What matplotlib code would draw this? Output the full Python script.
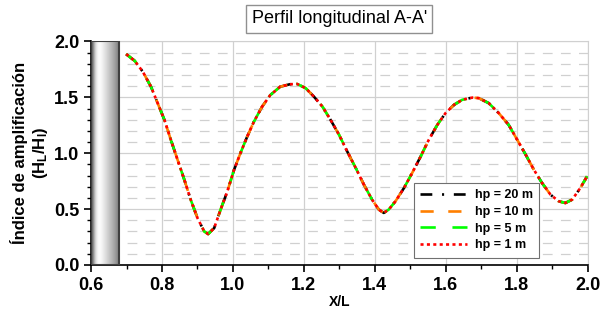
import numpy as np
import matplotlib.pyplot as plt
from matplotlib.patches import Rectangle
from matplotlib.ticker import MultipleLocator

plt.rcParams['font.family'] = ['Liberation Sans', 'DejaVu Sans']
plt.rcParams['mathtext.fontset'] = 'custom'
plt.rcParams['mathtext.rm'] = 'Liberation Sans'
plt.rcParams['mathtext.bf'] = 'Liberation Sans:bold'
plt.rcParams['lines.scale_dashes'] = False

# Datos
x_L = [0.699, 0.723, 0.746, 0.769, 0.788, 0.807, 0.825, 0.844, 0.863, 0.881,
       0.900, 0.919, 0.930, 0.947, 0.965, 0.984, 1.003, 1.021, 1.040, 1.059,
       1.082, 1.105, 1.133, 1.160, 1.181, 1.205, 1.228, 1.252, 1.275, 1.299,
       1.322, 1.346, 1.369, 1.392, 1.411, 1.425, 1.439, 1.458, 1.482, 1.505,
       1.529, 1.552, 1.576, 1.599, 1.623, 1.646, 1.675, 1.693, 1.721, 1.749,
       1.777, 1.801, 1.825, 1.848, 1.871, 1.895, 1.918, 1.937, 1.956, 1.979,
       1.998]
amp = [1.887, 1.827, 1.729, 1.595, 1.446, 1.297, 1.119, 0.940, 0.762, 0.583,
       0.420, 0.300, 0.277, 0.330, 0.494, 0.657, 0.851, 1.000, 1.148, 1.282,
       1.416, 1.520, 1.595, 1.617, 1.620, 1.582, 1.507, 1.418, 1.299, 1.165,
       1.016, 0.868, 0.719, 0.585, 0.496, 0.466, 0.496, 0.570, 0.689, 0.823,
       0.971, 1.121, 1.254, 1.359, 1.433, 1.478, 1.498, 1.493, 1.448, 1.359,
       1.254, 1.121, 0.987, 0.853, 0.734, 0.629, 0.570, 0.555, 0.585, 0.689,
       0.793]

labels = ['hp = 20 m', 'hp = 10 m', 'hp = 5 m', 'hp = 1 m']
colores = ['black', '#FF7F00', '#00FF00', '#FF0000']
trazos = [(0, (8.5, 7, 1.5, 7)), (0, (9.5, 10.5)), (0, (11, 12)), (0, (2.2, 2.4))]

fig = plt.figure(figsize=(6.11, 3.11), dpi=100)
ax = fig.add_axes([0.149, 0.148, 0.813, 0.7186])

# Muro (gradiente gris)
perfil = np.array([0.35, 0.75, 0.95, 1.0, 0.96, 0.9, 0.84, 0.78, 0.72, 0.66, 0.58, 0.5])
ax.imshow(perfil[np.newaxis, :], cmap='gray', vmin=0, vmax=1, aspect='auto',
          extent=[0.6, 0.679, 0, 2.0], zorder=2, interpolation='bicubic')
ax.add_patch(Rectangle((0.6, 0), 0.079, 2.0, fill=False, edgecolor='#404040', lw=1.5, zorder=3))

for lab, c, ls in zip(labels, colores, trazos):
    ax.plot(x_L, amp, color=c, linestyle=ls, lw=1.9, label=lab, zorder=4)

ax.set_xlim(0.6, 2.0)
ax.set_ylim(0, 2.0)
ax.xaxis.set_major_locator(MultipleLocator(0.2))
ax.xaxis.set_minor_locator(MultipleLocator(0.1))
ax.yaxis.set_major_locator(MultipleLocator(0.5))
ax.yaxis.set_minor_locator(MultipleLocator(0.1))
ax.grid(which='major', color='#d0d0d0', lw=0.9, zorder=0)
ax.grid(which='minor', axis='y', color='#d0d0d0', lw=0.9, linestyle=(0, (7, 6)), zorder=0)
ax.tick_params(which='major', direction='out', length=5, width=1.2, labelsize=13)
ax.tick_params(which='minor', direction='out', length=3, width=1)
for t in ax.get_xticklabels() + ax.get_yticklabels():
    t.set_fontweight('bold')
ax.spines['top'].set_color('#d0d0d0')
ax.spines['right'].set_color('#d0d0d0')
ax.spines['left'].set_linewidth(1.2)
ax.spines['bottom'].set_linewidth(1.2)

ax.set_xlabel('X/L', fontsize=10, fontweight='bold', labelpad=1)
ax.set_ylabel('Índice de amplificación\n' + r'$\mathbf{(H_L/H_I)}$', fontsize=12,
              fontweight='bold', labelpad=3)

ax.set_title("Perfil longitudinal A-A'", fontsize=13, pad=13,
             bbox=dict(facecolor='white', edgecolor='#909090', lw=1, boxstyle='square,pad=0.3'))

leg = ax.legend(loc='upper left', bbox_to_anchor=(0.637, 0.395), fancybox=False,
                edgecolor='#707070', framealpha=1, handlelength=3.8,
                prop={'weight': 'bold', 'size': 9}, borderpad=0.5, labelspacing=0.38,
                handletextpad=0.6)
leg.get_frame().set_linewidth(0.8)

plt.savefig('out.png', dpi=100)
